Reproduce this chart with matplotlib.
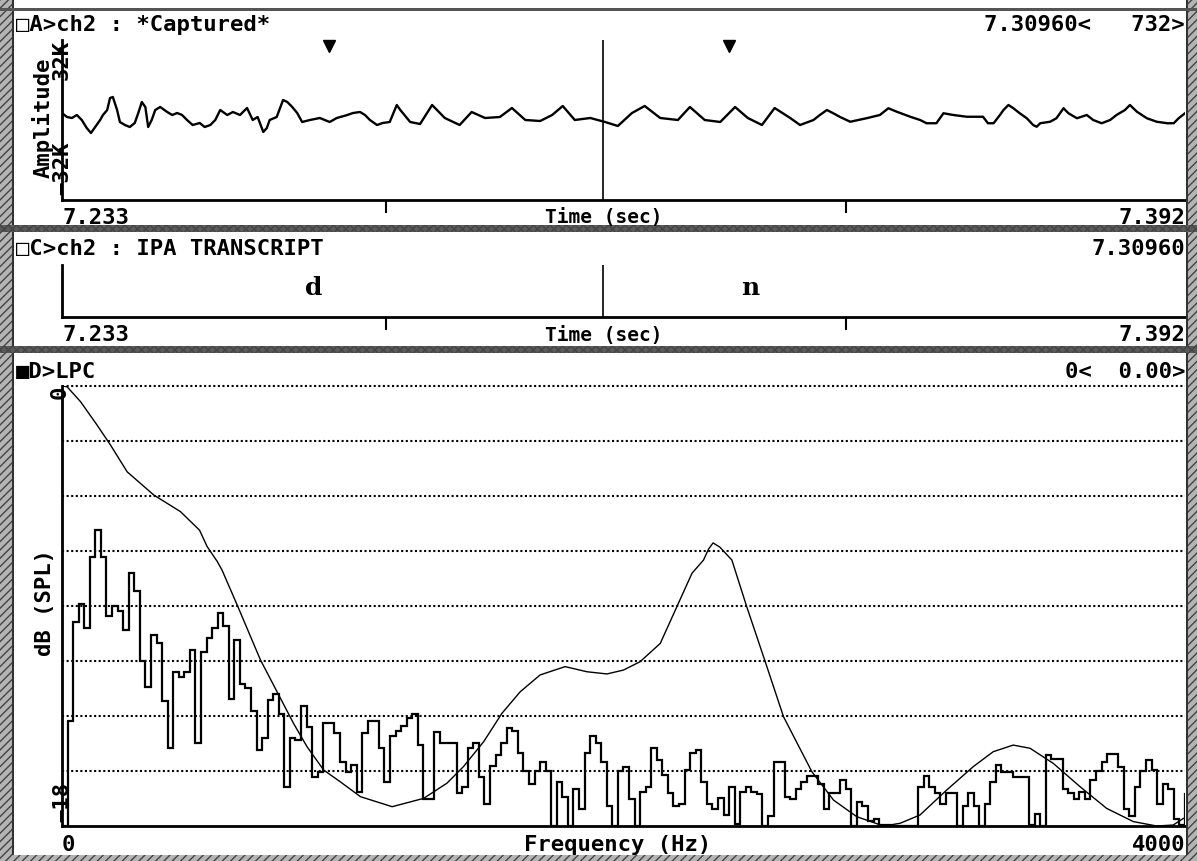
import numpy as np
import matplotlib.pyplot as plt
from matplotlib.patches import Rectangle

W, H = 1197, 861

# --- panel A: waveform (ms after 7.233 s, amplitude in K) ---
wave_ms = [0.0, 0.7, 1.4, 2.1, 2.8, 3.5, 4.1, 4.7, 5.4, 5.8,
           6.4, 6.8, 7.2, 7.8, 8.2, 8.9, 9.6, 10.3, 10.8, 11.3,
           11.8, 12.2, 12.7, 13.2, 13.9, 14.9, 15.6, 16.3, 17.0, 17.7,
           18.5, 19.5, 20.2, 21.0, 21.7, 22.4, 23.4, 24.2, 25.2, 26.2,
           27.0, 27.7, 28.5, 29.0, 29.4, 30.4, 31.3, 31.9, 32.6, 33.3,
           34.0, 35.1, 36.5, 37.9, 38.9, 40.4, 41.2, 42.2, 42.9, 43.6,
           44.6, 45.4, 46.4, 47.4, 47.9,
           49.3, 50.7, 52.4, 54.2, 56.3, 58.0, 59.9, 62.0, 63.7, 65.6,
           67.7, 69.4, 70.9, 72.6, 74.8, 76.9, 78.7, 80.7, 82.5, 84.7,
           87.2, 88.9, 91.0, 93.2, 95.3, 97.1, 99.1, 100.9, 103.1, 104.5,
           106.4, 107.3, 108.3, 109.2, 110.1, 111.6, 113.9, 115.8, 117.0, 118.2,
           120.1, 121.5, 122.4, 123.8, 124.8, 126.2, 128.1, 130.4, 131.1, 131.9,
           132.8, 133.3, 134.0, 134.7, 135.6, 136.6, 137.5, 138.0, 138.5, 139.9,
           140.8, 141.8, 142.5, 143.7, 145.1, 146.0, 147.2, 148.4, 149.3, 150.5,
           151.2, 152.2, 153.6, 155.0, 156.5, 157.4, 158.1, 159.0]
wave_k = [2.8, 1.2, 0.8, 2.0, 0.0, -3.2, -5.2, -2.8, 0.0, 2.0,
          4.0, 8.8, 9.2, 4.0, -0.8, -2.0, -2.8, -1.2, 2.8, 7.2,
          5.2, -2.8, 0.0, 4.0, 5.2, 3.2, 2.0, 2.8, 2.0, 0.0,
          -2.0, -1.2, -2.8, -2.0, 0.0, 4.0, 2.0, 3.2, 2.0, 4.8,
          0.0, 1.2, -4.8, -3.2, 0.0, 1.2, 8.0, 7.2, 5.2, 2.8,
          -0.8, 0.0, 0.8, -0.8, 0.8, 2.0, 2.8, 3.2, 2.0, 0.0,
          -2.0, -1.2, -0.8, 6.0, 4.0,
          -0.8, -1.6, 6.0, 0.8, -2.0, 3.2, 0.8, 1.2, 4.8, 0.0,
          -0.4, 2.0, 5.6, 0.0, 0.8, -0.8, -2.4, 2.8, 5.6, 0.8,
          0.0, 5.2, 0.0, -0.8, 5.2, 0.8, -2.0, 4.8, 0.8, -2.0,
          0.0, 2.0, 4.0, 2.7, 1.3, -0.7, 0.7, 2.0, 4.7, 3.3,
          1.3, 0.0, -1.3, -1.3, 2.7, 2.0, 1.3, 1.3, -1.3, -1.3,
          2.0, 4.0, 6.0, 4.7, 2.7, 0.7, -2.0, -2.7, -1.3, -0.7,
          0.7, 4.7, 2.7, 0.7, 2.0, 0.0, -1.3, 0.0, 2.0, 4.0,
          6.0, 3.3, 0.7, -0.7, -1.3, -1.3, 0.7, 2.7]

t_start, t_end = 7.233, 7.392
cursor_t = 7.3096
marker_t = [7.2708, 7.3274]
tick_t = [7.2789, 7.3440]

# --- panel C: IPA transcript ---
ipa_labels = ["d", "n"]
ipa_t = [7.2687, 7.3304]

# --- panel D: FFT spectrum (dB per bin) and LPC envelope ---
spec_bin_hz = 19.8
spec_db = [-18.0, -13.7, -9.65, -8.9, -9.9, -7.0, -5.9, -7.0, -9.4, -9.0,
           -9.2, -10.0, -7.65, -8.4, -11.25, -12.3, -10.2, -10.5, -12.9, -14.8,
           -11.7, -11.9, -11.7, -10.8, -14.6, -10.9, -10.3, -9.9, -9.3, -9.8,
           -12.8, -10.4, -12.2, -12.35, -13.3, -14.9, -14.4, -12.85, -12.6, -13.4,
           -16.4, -14.4, -14.5, -13.1, -13.95, -16.0, -15.8, -13.8, -13.8, -14.2,
           -15.4, -15.8, -15.5, -16.6, -14.2, -13.7, -13.7, -14.8, -16.2, -14.3,
           -14.1, -13.9, -13.6, -13.4, -14.7, -16.9, -16.9, -14.15, -14.6, -14.6,
           -14.6, -16.65, -16.4, -14.8, -14.6, -16.0, -17.1, -15.55, -15.1, -14.6,
           -14.0, -14.1, -15.0, -15.75, -16.3, -15.75, -15.4, -15.75, -18.0, -16.2,
           -16.8, -18.0, -16.5, -17.3, -15.0, -14.3, -14.6, -15.4, -17.2, -18.0,
           -15.75, -15.6, -16.9, -18.0, -16.6, -16.4, -14.8, -15.3, -15.9, -16.65,
           -17.2, -17.1, -15.7, -15.0, -14.9, -16.2, -17.1, -17.3, -16.85, -17.55,
           -16.4, -17.9, -16.6, -16.4, -16.6, -16.7, -18.0, -17.6, -15.4, -15.4,
           -16.8, -16.9, -16.5, -16.2, -15.95, -15.95, -16.3, -17.3, -16.65, -16.65,
           -16.1, -16.5, -18.0, -17.0, -17.2, -17.8, -17.7, -17.95, -17.95, -18.0,
           -18.0, -18.0, -18.0, -18.0, -16.4, -15.95, -16.4, -16.65, -17.1, -16.65,
           -16.65, -18.0, -17.2, -16.65, -17.2, -18.0, -17.1, -16.2, -15.5, -15.8,
           -15.8, -16.0, -16.0, -16.0, -17.95, -17.5, -18.0, -15.1, -15.25, -15.25,
           -16.5, -16.65, -16.9, -16.6, -16.9, -16.1, -15.75, -15.4, -15.05, -15.05,
           -15.6, -17.3, -17.6, -16.4, -15.75, -15.3, -15.7, -17.1, -16.3, -16.5,
           -17.7, -17.95, -16.7]
lpc_hz = [0, 18, 66, 125, 173, 232, 327, 422, 490, 517,
          553, 570, 624, 707, 772, 825, 873, 932, 991, 1063,
          1176, 1288, 1371, 1430, 1502, 1567, 1632, 1703, 1792, 1870,
          1941, 2000, 2059, 2131, 2190, 2244, 2285, 2303, 2319, 2343,
          2386, 2439, 2504, 2570, 2671, 2748, 2831, 2926, 2985, 3056,
          3151, 3246, 3317, 3388, 3448, 3531, 3626, 3721, 3816, 3899,
          3958, 3994]
lpc_db = [0.0, -0.03, -0.64, -1.60, -2.42, -3.51, -4.46, -5.14, -5.9, -6.57,
          -7.18, -7.53, -8.96, -11.21, -12.64, -13.81, -14.76, -15.71, -16.19, -16.80,
          -17.21, -16.87, -16.25, -15.57, -14.55, -13.39, -12.51, -11.82, -11.48, -11.69,
          -11.78, -11.62, -11.28, -10.53, -9.03, -7.66, -7.12, -6.67, -6.42, -6.59,
          -7.12, -9.03, -11.25, -13.53, -15.78, -16.94, -17.62, -18.0, -17.89, -17.55,
          -16.53, -15.57, -14.96, -14.69, -14.82, -15.44, -16.39, -17.28, -17.82, -18.0,
          -17.96, -17.69]

MONO = ["DejaVu Sans Mono", "DejaVu Sans"]
FS = 16

fig = plt.figure(figsize=(W / 100, H / 100), dpi=100)


def fx(x):
    return x / W


def fy(y):
    return 1 - y / H


def add_ax(left, top, right, bottom):
    ax = fig.add_axes([fx(left), fy(bottom), (right - left) / W, (bottom - top) / H])
    for side in ["top", "right"]:
        ax.spines[side].set_visible(False)
    for side in ["left", "bottom"]:
        ax.spines[side].set_linewidth(2)
    ax.set_yticks([])
    return ax


def label(x, y, s, ha="left", rot=0, size=FS, family=MONO, weight="bold"):
    fig.text(fx(x), fy(y), s, ha=ha, va="center", rotation=rot,
             fontsize=size, family=family, fontweight=weight)


def band(x0, y0, x1, y1, color, hatch=None):
    fig.patches.append(Rectangle((fx(x0), fy(y1)), (x1 - x0) / W, (y1 - y0) / H,
                                 transform=fig.transFigure, facecolor=color,
                                 edgecolor="#444444" if hatch else "none",
                                 hatch=hatch, lw=0))


# window borders (scanned, halftone-looking frame)
band(0, 0, 12, H, "#b4b4b4", "////")
band(1188, 0, W, H, "#b4b4b4", "////")
band(12, 0, 14, H, "#333333")
band(1186, 0, 1188, H, "#333333")
band(0, 225, W, 232, "#5a5a5a", "xxxx")
band(0, 346, W, 353, "#5a5a5a", "xxxx")
band(0, 855, W, H, "#b4b4b4", "////")
band(0, 8, W, 11, "#555555")

# panel A
axA = add_ax(62, 40, 1185, 200)
axA.plot([t_start + m / 1000 for m in wave_ms], wave_k, color="k", lw=1.7)
axA.set_xlim(t_start, t_end)
axA.set_ylim(-32, 32)
axA.axvline(cursor_t, color="k", lw=1.2)
axA.plot(marker_t, [0.96, 0.96], "v", color="k", ms=9,
         transform=axA.get_xaxis_transform(), clip_on=False)
axA.set_xticks(tick_t)
axA.set_xticklabels([])
axA.tick_params(axis="x", direction="out", length=9, width=1.5)

label(16, 25, "□A>ch2 : *Captured*")
label(1185, 25, "7.30960<   732>", ha="right")
label(32, 118, "Amplitude", rot=90)
label(52, 60, "32K", rot=90)
label(52, 168, "−32K", rot=90)
label(62, 218, "7.233")
label(604, 218, "Time (sec)", ha="center", size=14)
label(1185, 218, "7.392", ha="right")

# panel C
axC = add_ax(62, 265, 1185, 317)
axC.set_xlim(t_start, t_end)
axC.set_ylim(0, 1)
axC.axvline(cursor_t, color="k", lw=1.2)
for s, t in zip(ipa_labels, ipa_t):
    axC.text(t, 0.55, s, ha="center", va="center", fontsize=18,
             family="DejaVu Serif", fontweight="bold")
axC.set_xticks(tick_t)
axC.set_xticklabels([])
axC.tick_params(axis="x", direction="out", length=9, width=1.5)

label(16, 249, "□C>ch2 : IPA TRANSCRIPT")
label(1185, 249, "7.30960", ha="right")
label(62, 335, "7.233")
label(604, 335, "Time (sec)", ha="center", size=14)
label(1185, 335, "7.392", ha="right")

# panel D
axD = add_ax(62, 386, 1185, 826)
axD.set_xlim(0, 4000)
axD.set_ylim(-18, 0)
axD.set_xticks([])
for g in np.linspace(0, -18, 9)[:-1]:
    axD.axhline(g, color="k", lw=1.5, ls=(0, (1, 1.2)), clip_on=False)
edges = np.arange(len(spec_db) + 1) * spec_bin_hz
axD.stairs(spec_db, edges, baseline=None, color="k", lw=1.6)
axD.plot(lpc_hz, lpc_db, color="k", lw=1.0)

label(16, 372, "■D>LPC")
label(1185, 372, "0<  0.00>", ha="right")
label(35, 602, "dB (SPL)", rot=90)
label(50, 392, "0", rot=90)
label(52, 802, "−18", rot=90)
label(62, 845, "0")
label(618, 845, "Frequency (Hz)", ha="center")
label(1185, 845, "4000", ha="right")

fig.savefig("out.png", dpi=100)
